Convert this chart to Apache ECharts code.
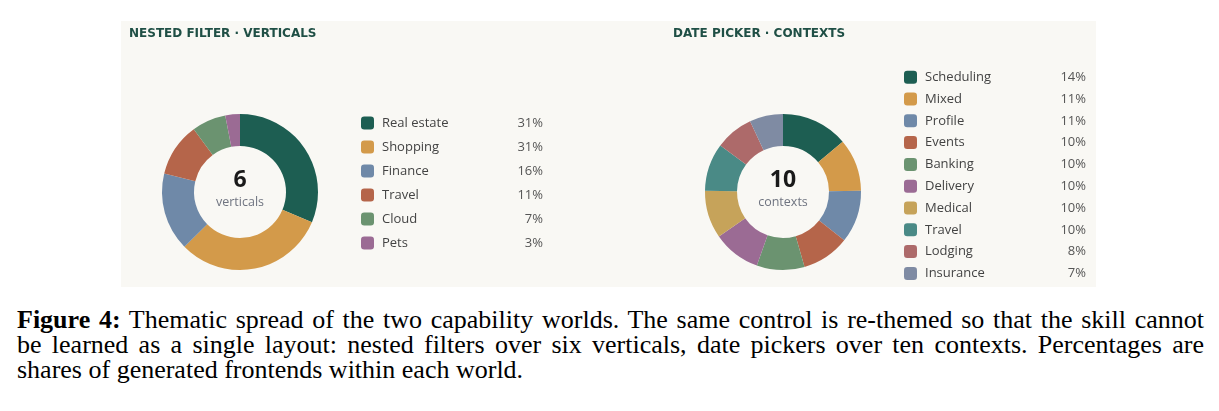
<!DOCTYPE html>
<html>
<head>
<meta charset="utf-8">
<script src="https://cdn.jsdelivr.net/npm/echarts@6/dist/echarts.min.js"></script>
<style>
  html, body { margin: 0; padding: 0; background: #ffffff; }
  #wrap { position: relative; width: 1219px; height: 411px; overflow: hidden; }
  #chart { position: absolute; left: 0; top: 0; width: 1219px; height: 300px; }
  #caption { position: absolute; left: 17px; top: 307px; width: 1187px;
    font-family: "Liberation Serif", "DejaVu Serif", serif; font-size: 26px; line-height: 25px; color: #000; }
  #caption .j { text-align: justify; text-align-last: justify; white-space: nowrap; }
  #caption .l { text-align: left; white-space: nowrap; }
</style>
</head>
<body>
<div id="wrap">
  <div id="chart"></div>
  <div id="caption">
    <div class="j"><b>Figure 4:</b> Thematic spread of the two capability worlds. The same control is re-themed so that the skill cannot</div>
    <div class="j">be learned as a single layout: nested filters over six verticals, date pickers over ten contexts. Percentages are</div>
    <div class="l">shares of generated frontends within each world.</div>
  </div>
</div>
<script>
// ---- data ----
const verticalNames = ['Real estate', 'Shopping', 'Finance', 'Travel', 'Cloud', 'Pets'];
const verticalShares = [31, 31, 16, 11, 7, 3];
const contextNames = ['Scheduling', 'Mixed', 'Profile', 'Events', 'Banking', 'Delivery', 'Medical', 'Travel', 'Lodging', 'Insurance'];
const contextShares = [14, 11, 11, 10, 10, 10, 10, 10, 8, 7];
const leftTitle = 'NESTED FILTER · VERTICALS';
const rightTitle = 'DATE PICKER · CONTEXTS';
const leftUnit = 'verticals';
const rightUnit = 'contexts';

// ---- styles ----
const verticalColors = ['#1d5e52', '#d39a4a', '#6f89a8', '#b5654a', '#6b9370', '#9b6b94'];
const contextColors = ['#1d5e52', '#d39a4a', '#6f89a8', '#b5654a', '#6b9370', '#9b6b94', '#c6a35a', '#4a8a86', '#ad6a6a', '#7f8ba3'];
const FONT = '"Open Sans", "Noto Sans", sans-serif';
const TITLE_FONT = 'bold 12px "DejaVu Sans", sans-serif';

function pieData(names, vals, colors) {
  return names.map((n, i) => ({ name: n, value: vals[i], itemStyle: { color: colors[i] } }));
}
function legendData(names, colors) {
  return names.map((n, i) => ({ name: n, itemStyle: { color: colors[i] } }));
}
function makeLegend(names, vals, colors, left, top, gap) {
  return {
    orient: 'vertical', left: left, top: top, itemGap: gap, padding: 0,
    itemWidth: 13, itemHeight: 13, icon: 'roundRect',
    selectedMode: false,
    data: legendData(names, colors),
    formatter: function (name) {
      const i = names.indexOf(name);
      return '{n|' + name + '}{v|' + vals[i] + '%}';
    },
    textStyle: {
      rich: {
        n: { fontFamily: FONT, fontSize: 13, color: '#434343', width: 125, lineHeight: 13, padding: [0, 0, 0, 3] },
        v: { fontFamily: FONT, fontSize: 13, color: '#555555', width: 36, align: 'right', lineHeight: 13 }
      }
    }
  };
}
function makePie(names, vals, colors, cx) {
  return {
    type: 'pie', radius: [46, 78], center: [cx, 192], startAngle: 90, clockwise: true,
    label: { show: false }, labelLine: { show: false }, silent: true,
    emphasis: { disabled: true },
    itemStyle: { borderWidth: 0 },
    data: pieData(names, vals, colors)
  };
}

const chart = echarts.init(document.getElementById('chart'), null, { renderer: 'canvas' });
chart.setOption({
  animation: false,
  backgroundColor: '#ffffff',
  graphic: [
    { type: 'rect', shape: { x: 121, y: 21, width: 975, height: 266 }, style: { fill: '#f9f8f4' }, z: -10, silent: true },
    { type: 'text', x: 129, y: 34, style: { text: leftTitle, font: TITLE_FONT, fill: '#1f4f45', verticalAlign: 'middle' } },
    { type: 'text', x: 673, y: 34, style: { text: rightTitle, font: TITLE_FONT, fill: '#1f4f45', verticalAlign: 'middle' } },
    { type: 'text', x: 240, y: 180, style: { text: String(verticalNames.length), font: 'bold 23px ' + FONT, fill: '#1a1a1a', align: 'center', verticalAlign: 'middle' } },
    { type: 'text', x: 240, y: 202, style: { text: leftUnit, font: '12.5px ' + FONT, fill: '#6f7480', align: 'center', verticalAlign: 'middle' } },
    { type: 'text', x: 783, y: 180, style: { text: String(contextNames.length), font: 'bold 23px ' + FONT, fill: '#1a1a1a', align: 'center', verticalAlign: 'middle' } },
    { type: 'text', x: 783, y: 202, style: { text: rightUnit, font: '12.5px ' + FONT, fill: '#6f7480', align: 'center', verticalAlign: 'middle' } }
  ],
  legend: [
    makeLegend(verticalNames, verticalShares, verticalColors, 361, 116.5, 11),
    makeLegend(contextNames, contextShares, contextColors, 904, 70.7, 8.8)
  ],
  series: [
    makePie(verticalNames, verticalShares, verticalColors, 240),
    makePie(contextNames, contextShares, contextColors, 783)
  ]
});
</script>
</body>
</html>
